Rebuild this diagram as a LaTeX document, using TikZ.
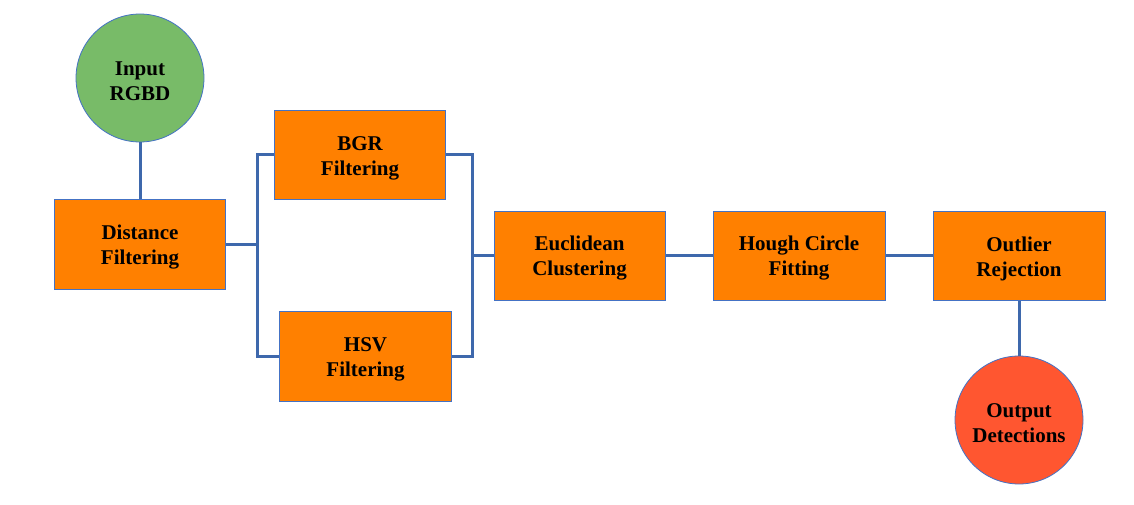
\documentclass[tikz,border=0pt]{standalone}
\usepackage{fontspec}
\setmainfont{Liberation Serif}
\definecolor{boxfill}{HTML}{FF8000}
\definecolor{boxdraw}{HTML}{4472C4}
\definecolor{linec}{HTML}{3E68AC}
\definecolor{ingreen}{HTML}{78BB68}
\definecolor{outred}{HTML}{FF5630}
\begin{document}
\begin{tikzpicture}[x=1pt,y=-1pt,
  lbl/.style={font=\fontsize{21}{25}\selectfont\bfseries, align=center, inner sep=0pt, yshift=-3pt},
  procbox/.style={draw=boxdraw, line width=1pt, fill=boxfill, rectangle, inner sep=0pt},
  termcirc/.style={draw=boxdraw, line width=0.8pt, circle, minimum size=128pt, inner sep=0pt},
  conn/.style={draw=linec, line width=3pt}]
\useasboundingbox (0,0) rectangle (1134,505);
\node[termcirc, fill=ingreen, label={[lbl]center:Input\\RGBD}] (in) at (140,78) {};
\node[procbox, minimum width=171pt, minimum height=90pt, label={[lbl]center:Distance\\Filtering}] (dist) at (140,244) {};
\node[procbox, minimum width=171pt, minimum height=89pt, label={[lbl]center:BGR\\Filtering}] (bgr) at (360,155) {};
\node[procbox, minimum width=172pt, minimum height=90pt, label={[lbl]center:HSV\\Filtering}] (hsv) at (365.5,356) {};
\node[procbox, minimum width=171pt, minimum height=89pt, label={[lbl]center:Euclidean\\Clustering}] (eucl) at (579.5,255.5) {};
\node[procbox, minimum width=172pt, minimum height=89pt, label={[lbl]center:Hough Circle\\Fitting}] (hough) at (799,255.5) {};
\node[procbox, minimum width=172pt, minimum height=89pt, label={[lbl]center:Outlier\\Rejection}] (outl) at (1019,255.5) {};
\node[termcirc, fill=outred, label={[lbl]center:Output\\Detections}] (out) at (1019,420) {};
\coordinate (jl) at (257.5,244);
\coordinate (jr) at (472.5,255.5);
\path[conn] (in) -- (dist);
\path[conn] (dist.east) -- (jl);
\path[conn] (bgr.west) -| (jl) |- (hsv.west);
\path[conn] (bgr.east) -| (jr) |- (hsv.east);
\path[conn] (jr) -- (eucl.west);
\path[conn] (eucl) -- (hough);
\path[conn] (hough) -- (outl);
\path[conn] (outl) -- (out);
\end{tikzpicture}
\end{document}
